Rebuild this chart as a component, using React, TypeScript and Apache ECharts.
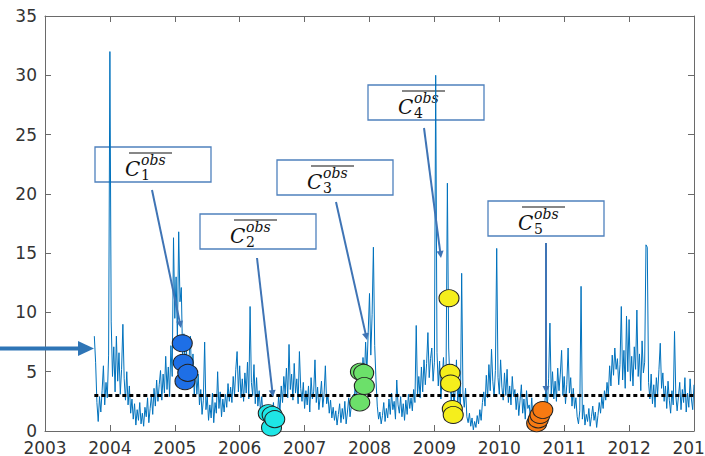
import React, { useEffect, useRef } from "react";
import * as echarts from "echarts";

// ---- data ----
const startYear = 2003.76;
const stepYears = 0.02;
const concentration: number[] = [
  8.0, 5.8, 2.4, 0.8, 2.9, 1.6, 3.4, 5.5, 2.2, 4.1,
  2.8, 6.4, 32.0, 9.2, 4.6, 7.1, 3.3, 8.0, 4.2, 6.6,
  3.1, 5.2, 9.0, 4.4, 2.6, 5.0, 2.2, 3.8, 1.5, 2.7,
  1.0, 2.3, 0.5, 1.8, 0.9, 2.4, 0.6, 1.5, 0.4, 2.0,
  1.2, 2.8, 0.7, 1.9, 3.0, 1.4, 3.6, 2.1, 4.3, 2.5,
  3.9, 5.1, 2.6, 4.8, 3.2, 6.3, 3.5, 5.4, 2.9, 7.2,
  4.6, 16.3, 9.5, 13.0, 7.8, 16.8, 10.9, 12.1, 6.4, 8.2,
  5.1, 7.0, 3.6, 6.2, 8.0, 4.3, 6.5, 2.9, 5.4, 3.1,
  4.8, 2.2, 3.5, 1.4, 2.6, 7.5, 1.8, 2.9, 0.9, 2.2,
  1.1, 3.2, 0.7, 2.4, 1.5, 5.0, 1.9, 3.3, 1.2, 2.7,
  1.6, 3.1, 2.0, 4.0, 2.5, 3.7, 2.4, 4.6, 3.0, 5.2,
  6.7, 3.3, 5.5, 2.8, 4.4, 2.5, 4.9, 3.2, 5.8, 2.7,
  10.5, 4.1, 3.0, 5.6, 2.3, 4.5, 2.1, 3.4, 1.7, 2.9,
  1.2, 2.2, 0.6, 1.5, 0.9, 1.8, 0.5, 1.3, 2.4, 0.8,
  2.0, 1.1, 3.0, 1.6, 3.8, 2.4, 4.6, 3.1, 5.3, 2.8,
  7.3, 3.5, 4.8, 2.6, 5.7, 3.2, 4.4, 2.3, 6.7, 3.6,
  2.5, 4.1, 1.9, 3.4, 2.2, 3.8, 1.6, 4.5, 2.7, 3.3,
  6.0, 2.4, 3.7, 1.8, 2.9, 4.2, 2.0, 3.1, 5.5, 2.3,
  3.0, 1.5, 2.6, 1.1, 2.0, 0.9, 1.7, 0.5, 1.4, 2.3,
  0.7, 1.9, 1.0, 2.5, 0.6, 1.6, 2.8, 1.2, 2.1, 3.0,
  2.2, 3.9, 2.7, 4.6, 3.4, 5.3, 3.6, 6.2, 4.1, 7.5,
  5.0, 8.3, 11.6, 6.4, 9.8, 15.5, 7.2, 4.3, 2.1, 1.0,
  1.6, 0.6, 1.3, 2.4, 0.8, 1.9, 1.1, 2.7, 1.4, 3.2,
  1.8, 2.5, 1.0, 4.3, 2.2, 1.5, 2.9, 1.2, 2.3, 0.9,
  2.6, 1.4, 3.1, 1.9, 2.8, 1.7, 3.5, 2.4, 8.9, 3.0,
  4.6, 2.8, 5.4, 3.3, 6.0, 3.9, 5.7, 8.3, 4.5, 6.1,
  7.0, 4.2, 5.8, 30.0, 6.6, 3.8, 5.9, 2.7, 4.4, 6.2,
  3.5, 5.1, 20.9, 7.0, 4.0, 2.6, 4.8, 1.9, 3.5, 6.0,
  2.3, 4.1, 1.6, 13.3, 3.2, 2.0, 3.6, 1.2, 0.7, 1.5,
  0.4, 1.1, 0.1, 0.8, 0.3, 1.3, 0.6, 1.8, 0.9, 2.4,
  3.3, 2.1, 4.7, 2.8, 5.6, 3.4, 6.9, 4.2, 2.9, 5.1,
  15.4, 4.5, 3.1, 6.0, 3.7, 2.6, 4.9, 3.0, 5.2, 2.4,
  3.8, 2.2, 4.6, 2.9, 3.5, 1.8, 3.2, 1.3, 2.6, 3.9,
  1.5, 2.7, 1.0, 3.4, 1.9, 2.2, 1.1, 2.8, 0.8, 1.6,
  0.6, 1.4, 0.3, 1.0, 0.5, 1.7, 0.9, 2.3, 3.6, 2.0,
  4.4, 9.1, 3.1, 5.0, 2.7, 4.2, 2.5, 5.3, 3.4, 4.8,
  6.8, 3.0, 4.6, 2.3, 3.9, 7.0, 3.2, 4.5, 2.1, 3.6,
  1.9, 2.8, 1.2, 0.6, 1.7, 12.2, 1.0, 2.2, 0.5, 1.4,
  0.8, 1.9, 0.4, 1.2, 2.1, 0.9, 1.6, 0.3, 1.3, 2.4,
  1.5, 2.9, 1.9, 3.4, 2.6, 4.1, 3.0, 5.5, 3.8, 6.4,
  4.7, 7.0, 5.2, 6.1, 3.9, 5.6, 10.5, 4.3, 6.8, 3.6,
  9.7, 5.0, 9.4, 4.2, 6.3, 3.8, 7.1, 5.2, 10.2, 4.6,
  6.5, 3.4, 7.6, 4.9, 5.8, 15.7, 15.5, 4.1, 2.7, 4.8,
  2.3, 3.9, 2.0, 4.5, 3.1, 5.2, 7.4, 3.6, 4.9, 2.5,
  3.8, 1.9, 4.2, 2.6, 1.5, 3.4, 2.2, 8.4, 3.0, 1.7,
  2.9, 4.1, 1.8, 3.5, 2.4, 4.5, 1.6, 3.2, 2.0, 4.4,
  2.7, 1.8, 3.9,
];

const meanLevel = 3;
const meanYears = [2003.76, 2013.0];

const xMin = 2003;
const xMax = 2013;
const xInterval = 1;
const yMin = 0;
const yMax = 35;
const yInterval = 5;

const groupLabels = ["1", "2", "3", "4", "5"];
const groupYears: number[][] = [
  [2005.115, 2005.13, 2005.157, 2005.2],
  [2006.44, 2006.49, 2006.5, 2006.54],
  [2007.85, 2007.86, 2007.91, 2007.92],
  [2009.225, 2009.24, 2009.25, 2009.276, 2009.29],
  [2010.576, 2010.6, 2010.627, 2010.67],
];
const groupValues: number[][] = [
  [7.4, 5.75, 4.2, 4.9],
  [1.5, 0.3, 1.35, 1.0],
  [2.4, 5.0, 4.9, 3.8],
  [11.2, 4.9, 4.0, 1.85, 1.35],
  [0.65, 0.98, 1.35, 1.77],
];

// ---- styles / layout ----
const groupColors = ["#1E6FE6", "#1EE6E6", "#6CE06A", "#F5EE1C", "#F77A12"];
const boxPositions = [
  [95, 147],
  [200, 214],
  [277, 160],
  [368, 85],
  [488, 201],
];
const pointerSegments = [
  [152, 190, 181, 328],
  [257, 258, 273, 397],
  [336, 202, 367, 340],
  [424, 128, 441, 258],
  [546, 243, 546, 393],
];

function arrow(
  x1: number, y1: number, x2: number, y2: number,
  color: string, width: number, headLen: number, headW: number
) {
  const dx = x2 - x1;
  const dy = y2 - y1;
  const len = Math.sqrt(dx * dx + dy * dy);
  const ux = dx / len;
  const uy = dy / len;
  const bx = x2 - ux * headLen;
  const by = y2 - uy * headLen;
  const px = -uy;
  const py = ux;
  return [
    {
      type: "line",
      silent: true,
      shape: { x1, y1, x2: bx + ux * 1, y2: by + uy * 1 },
      style: { stroke: color, lineWidth: width },
      z: 100,
    },
    {
      type: "polygon",
      silent: true,
      shape: {
        points: [
          [x2, y2],
          [bx + px * headW, by + py * headW],
          [bx - px * headW, by - py * headW],
        ],
      },
      style: { fill: color },
      z: 100,
    },
  ];
}

function labelBox(x: number, y: number, digit: string) {
  const serif = '"DejaVu Serif", "Liberation Serif", serif';
  return {
    type: "group",
    x,
    y,
    z: 110,
    children: [
      {
        type: "rect",
        shape: { x: 0, y: 0, width: 116, height: 35 },
        style: { fill: "#ffffff", stroke: "#4F81BD", lineWidth: 1.3 },
      },
      {
        type: "line",
        shape: { x1: 34, y1: 6, x2: 77, y2: 6 },
        style: { stroke: "#111", lineWidth: 1.2 },
      },
      {
        type: "text",
        x: 30,
        y: 22,
        style: {
          text: "C",
          font: `italic 20px ${serif}`,
          fill: "#111",
          align: "left",
          verticalAlign: "middle",
        },
      },
      {
        type: "text",
        x: 46,
        y: 13,
        style: {
          text: "obs",
          font: `italic 14px ${serif}`,
          fill: "#111",
          align: "left",
          verticalAlign: "middle",
        },
      },
      {
        type: "text",
        x: 46,
        y: 28,
        style: {
          text: digit,
          font: `14px ${serif}`,
          fill: "#111",
          align: "left",
          verticalAlign: "middle",
        },
      },
    ],
  };
}

export default function App() {
  const ref = useRef<HTMLDivElement>(null);

  useEffect(() => {
    if (!ref.current) return;
    const chart = echarts.init(ref.current, undefined, { renderer: "svg" });

    const lineData = concentration.map((v, i) => [
      Math.round((startYear + i * stepYears) * 1000) / 1000,
      v,
    ]);
    const meanData = meanYears.map((yr) => [yr, meanLevel]);

    const axisColor = "#6a6a6a";
    const labelStyle = {
      color: "#333",
      fontSize: 17,
      fontFamily: '"DejaVu Sans", sans-serif',
    };

    const graphics: any[] = [];
    pointerSegments.forEach((s) => {
      graphics.push(...arrow(s[0], s[1], s[2], s[3], "#3F74B5", 2, 7, 3.5));
    });
    graphics.push(...arrow(0, 348.5, 94, 348.5, "#2E75B6", 4, 16, 7.5));
    boxPositions.forEach((p, i) => {
      graphics.push(labelBox(p[0], p[1], groupLabels[i]));
    });

    chart.setOption({
      animation: false,
      backgroundColor: "#ffffff",
      grid: {
        left: 45,
        right: 11,
        top: 16,
        bottom: 25,
        containLabel: false,
        outerBoundsMode: "none",
      },
      xAxis: [
        {
          type: "value",
          min: xMin,
          max: xMax,
          interval: xInterval,
          axisLine: { show: true, onZero: false, lineStyle: { color: axisColor, width: 1 } },
          axisTick: { show: true, inside: true, length: 6, lineStyle: { color: axisColor } },
          axisLabel: { ...labelStyle, margin: 8, hideOverlap: false, formatter: (v: number) => String(v) },
          splitLine: { show: false },
        },
        {
          type: "value",
          position: "top",
          min: xMin,
          max: xMax,
          interval: xInterval,
          axisLine: { show: true, onZero: false, lineStyle: { color: axisColor, width: 1 } },
          axisTick: { show: true, inside: true, length: 6, lineStyle: { color: axisColor } },
          axisLabel: { show: false },
          splitLine: { show: false },
        },
      ],
      yAxis: [
        {
          type: "value",
          min: yMin,
          max: yMax,
          interval: yInterval,
          axisLine: { show: true, onZero: false, lineStyle: { color: axisColor, width: 1 } },
          axisTick: { show: true, inside: true, length: 6, lineStyle: { color: axisColor } },
          axisLabel: { ...labelStyle, margin: 8 },
          splitLine: { show: false },
        },
        {
          type: "value",
          position: "right",
          min: yMin,
          max: yMax,
          interval: yInterval,
          axisLine: { show: true, onZero: false, lineStyle: { color: axisColor, width: 1 } },
          axisTick: { show: true, inside: true, length: 6, lineStyle: { color: axisColor } },
          axisLabel: { show: false },
          splitLine: { show: false },
        },
      ],
      series: [
        {
          type: "line",
          xAxisIndex: 0,
          yAxisIndex: 0,
          data: lineData,
          symbol: "none",
          showSymbol: false,
          lineStyle: { color: "#0072BD", width: 1 },
          z: 2,
          silent: true,
        },
        {
          type: "line",
          xAxisIndex: 0,
          yAxisIndex: 0,
          data: meanData,
          symbol: "none",
          lineStyle: { color: "#000000", width: 3, type: [4, 3] },
          z: 3,
          silent: true,
        },
        ...groupYears.map((yrs, gi) => ({
          type: "scatter",
          xAxisIndex: 0,
          yAxisIndex: 0,
          data: yrs.map((yr, k) => [yr, groupValues[gi][k]]),
          symbol: "circle",
          symbolSize: [20, 17],
          itemStyle: {
            color: groupColors[gi],
            borderColor: "#222",
            borderWidth: 1,
            opacity: 1,
          },
          z: 4,
          silent: true,
        })),
      ],
      graphic: graphics,
    });

    return () => chart.dispose();
  }, []);

  return (
    <div
      ref={ref}
      style={{ position: "absolute", left: 0, top: 0, width: 705, height: 456, background: "#fff" }}
    />
  );
}
